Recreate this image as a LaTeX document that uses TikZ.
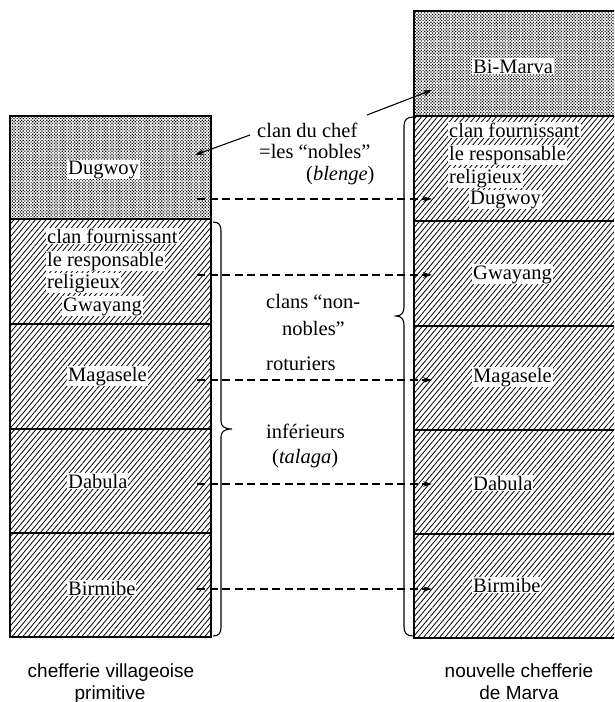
\documentclass[tikz,border=0pt]{standalone}
\usepackage{fontspec}
\setmainfont{Liberation Serif}
\newfontfamily\capfont{Liberation Sans}
\usetikzlibrary{patterns.meta,arrows.meta}
\tikzset{
 hatchrow/.style={pattern={Lines[angle=50,distance=4.1pt,line width=0.8pt]}},
 dotrow/.style={pattern={Dots[angle=45,distance=2.2pt,radius=0.85pt]}},
 rowline/.style={line width=1.2pt},
 frame/.style={line width=1.7pt},
 lab/.style={font=\fontsize{20.5}{23}\selectfont, fill=white, inner sep=1pt, anchor=base west},
 midlab/.style={font=\fontsize{20.5}{23}\selectfont, inner sep=0pt, anchor=base west},
 caplab/.style={font=\capfont\fontsize{19}{22}\selectfont, inner sep=0pt, anchor=base},
 dasharrow/.style={line width=1.1pt, dash pattern=on 8pt off 4.5pt, -{Stealth[length=9pt,width=5.5pt]}},
 solidarrow/.style={line width=1.1pt, -{Stealth[length=9pt,width=5.5pt]}},
 bracepath/.style={line width=1.1pt},
}
\begin{document}
\begin{tikzpicture}[x=1pt,y=-1pt]
\useasboundingbox[fill=white] (0,0) rectangle (614,702);
\clip (0,0) rectangle (614,702);
% left column
\fill[dotrow] (10,116) rectangle (211,219);
\fill[hatchrow] (10,219) rectangle (211,637);
\foreach \yy in {219,324,429,533} \draw[rowline] (10,\yy) -- (211,\yy);
\draw[frame] (10,116) rectangle (211,637);
% right column
\fill[dotrow] (414,11) rectangle (617,116);
\fill[hatchrow] (414,116) rectangle (617,638);
\foreach \yy in {116,221,326,430,534} \draw[rowline] (414,\yy) -- (617,\yy);
\draw[frame] (414,11) rectangle (617,638);
% left labels
\node[lab] (lDug) at (67,174) {Dugwoy};
\node[lab] (lclanA) at (46,243) {clan fournissant};
\node[lab] (lclanB) at (46,266) {le responsable};
\node[lab] (lclanC) at (46,288) {religieux};
\node[lab] (lGwa) at (62,311) {Gwayang};
\node[lab] (lMag) at (67,381) {Magasele};
\node[lab] (lDab) at (67,488) {Dabula};
\node[lab] (lBir) at (67,595) {Birmibe};
% right labels
\node[lab] (rBi) at (472,73) {Bi-Marva};
\node[lab] (rclanA) at (448,137) {clan fournissant};
\node[lab] (rclanB) at (448,160) {le responsable};
\node[lab] (rclanC) at (448,183) {religieux};
\node[lab] (rDug) at (469,204) {Dugwoy};
\node[lab] (rGwa) at (472,279) {Gwayang};
\node[lab] (rMag) at (472,382) {Magasele};
\node[lab] (rDab) at (472,490) {Dabula};
\node[lab] (rBir) at (472,592) {Birmibe};
% middle labels
\node[midlab] (mA) at (257,137) {clan du chef};
\node[midlab] (mB) at (259,158) {=les ``nobles''};
\node[midlab] (mC) at (306,180) {(\textit{blenge})};
\node[midlab] (mD) at (266,308) {clans ``non-};
\node[midlab] (mE) at (282,335) {nobles''};
\node[midlab] (mF) at (266,370) {roturiers};
\node[midlab] (mG) at (266,438) {inférieurs};
\node[midlab] (mH) at (272,463) {(\textit{talaga})};
% captions
\node[caplab] (capLa) at (111,677) {chefferie villageoise};
\node[caplab] (capLb) at (110,699) {primitive};
\node[caplab] (capRa) at (519,677) {nouvelle chefferie};
\node[caplab] (capRb) at (519,699) {de Marva};
% solid arrows from "clan du chef"
\coordinate (chefL) at (250,135);
\coordinate (dugL) at (195,155);
\coordinate (chefR) at (367,115);
\coordinate (biR) at (432,90);
\draw[solidarrow] (chefL) -- (dugL);
\draw[solidarrow] (chefR) -- (biR);
% dashed arrows
\foreach \nm/\yy in {a/199,b/275,c/380,d/484,e/589}{
  \coordinate (s\nm) at (197,\yy);
  \coordinate (t\nm) at (432,\yy);
  \draw[dasharrow] (s\nm) -- (t\nm);
}
% braces
\draw[bracepath] (213,222) .. controls (219,222) and (221,225) .. (221,231) -- (221,421)
  .. controls (221,426) and (224,429) .. (232,429)
  .. controls (224,429) and (221,432) .. (221,437) -- (221,627)
  .. controls (221,633) and (219,636) .. (213,636);
\draw[bracepath] (413,117) .. controls (407,117) and (404,120) .. (404,126) -- (404,307)
  .. controls (404,312) and (402,316) .. (396,316)
  .. controls (402,316) and (404,320) .. (404,325) -- (404,627)
  .. controls (404,633) and (407,636) .. (413,636);
\end{tikzpicture}
\end{document}
